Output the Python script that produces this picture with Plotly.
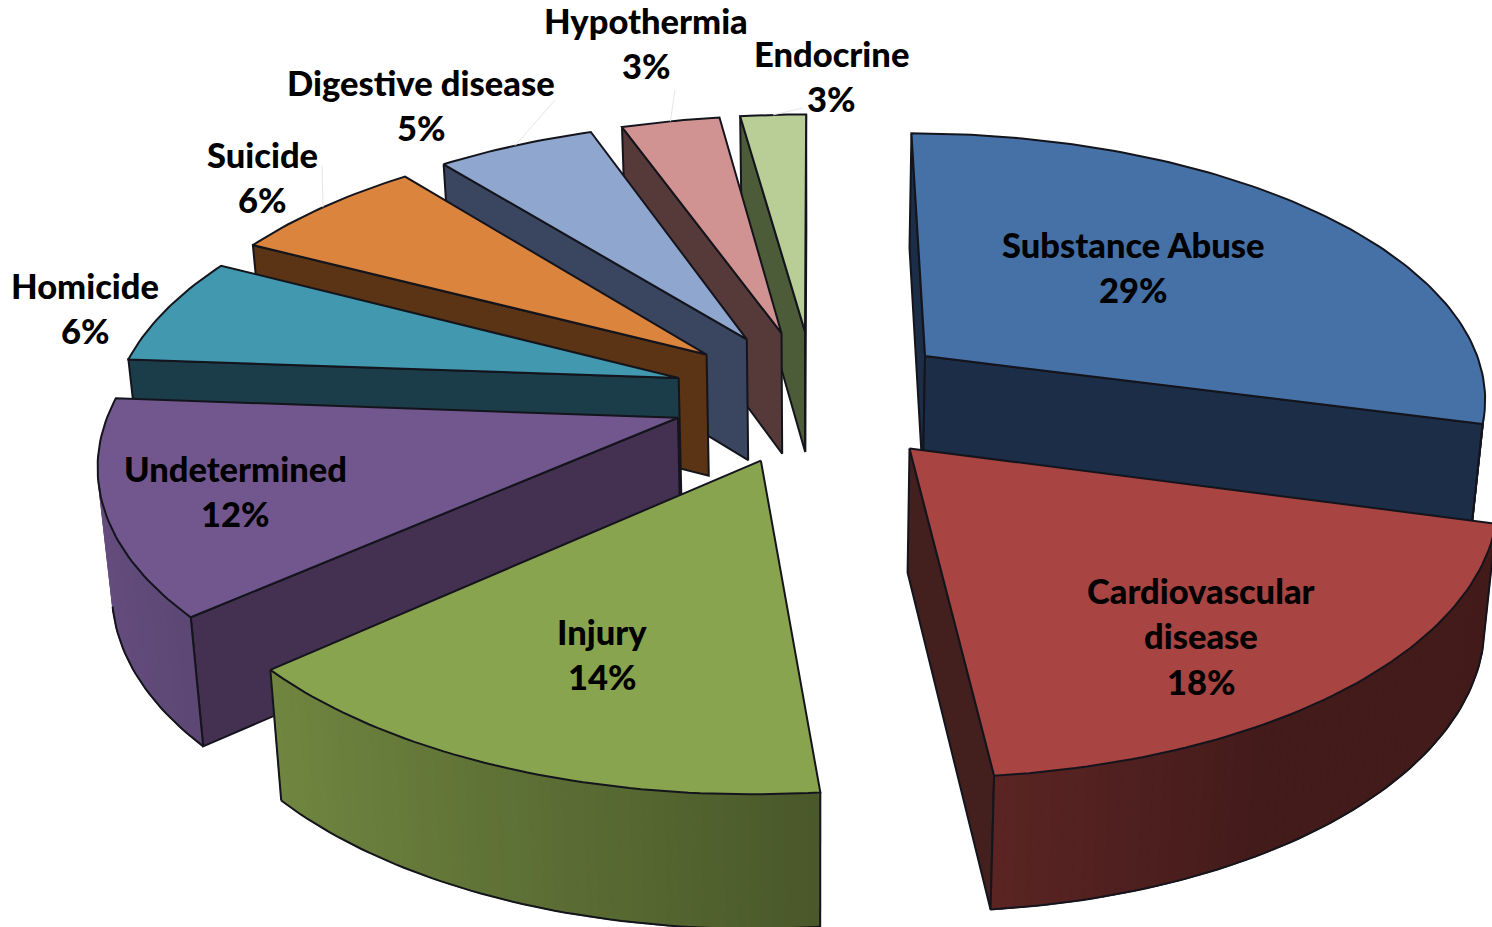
import math
import plotly.graph_objects as go

# Data
categories = ["Substance Abuse", "Cardiovascular disease", "Injury", "Undetermined", "Homicide",
              "Suicide", "Digestive disease", "Hypothermia", "Endocrine"]
percent_labels = [29, 18, 14, 12, 6, 6, 5, 3, 3]
# Share of the circle that each drawn slice really occupies in the picture (%)
slice_shares = [29.15, 19.25, 15.05, 12.7, 6.45, 6.6, 5.3, 3.3, 2.2]

# Style
top_colors = ["#4671A7", "#A84442", "#89A44E", "#71578E", "#4198AF", "#DB843D", "#8FA6CE", "#D19392", "#B9CD96"]
wall_colors = ["#1B2D47", "#43201E", "#4A5D27", "#443051", "#1B3D49", "#5A3415", "#3A4560", "#563A3A", "#4C5B38"]
label_lines = [["Substance Abuse"], ["Cardiovascular", "disease"], ["Injury"], ["Undetermined"], ["Homicide"],
               ["Suicide"], ["Digestive disease"], ["Hypothermia"], ["Endocrine"]]
label_pos = [(1133, 244), (1201, 590), (602, 631), (235, 468), (85, 285), (262, 154), (421, 82), (646, 20), (831, 53)]
leader_ends = {5: (322, 165), 6: (555, 100), 7: (675, 90), 8: (803, 108)}
draw_order = [8, 7, 6, 5, 4, 0, 3, 1, 2]

# Projection of the tilted pie
CX, CY, A, B, P = 814.5, 396.0, 570.0, 268.0, 0.145
RADIUS, EXPLODE = 0.99, 0.25
DROP, DROP_GROW, SHRINK = 122.5, 0.03, 0.98
INK = "#14141c"


def project(x, y, bottom=False):
    w = 1 + P * y
    dx, dy = A * x / w, -B * y / w
    if bottom:
        return CX + SHRINK * dx, CY + (1 + DROP_GROW) * dy + DROP
    return CX + dx, CY + dy


def rgb(hexcol):
    return tuple(int(hexcol[i:i + 2], 16) for i in (1, 3, 5))


def scale(hexcol, f):
    return "rgb(%d,%d,%d)" % tuple(min(255, round(c * f)) for c in rgb(hexcol))


def poly(fig, pts, fill, line=INK, width=2):
    fig.add_trace(go.Scatter(x=[p[0] for p in pts] + [pts[0][0]], y=[p[1] for p in pts] + [pts[0][1]],
                             mode="lines", fill="toself", fillcolor=fill,
                             line=dict(color=line, width=width), hoverinfo="skip", showlegend=False))


def path(fig, pts, color=INK, width=2):
    fig.add_trace(go.Scatter(x=[p[0] for p in pts], y=[p[1] for p in pts], mode="lines",
                             line=dict(color=color, width=width), hoverinfo="skip", showlegend=False))


def side(a, b, c):
    return (b[0] - a[0]) * (c[1] - a[1]) - (b[1] - a[1]) * (c[0] - a[0])


def faces_viewer(a, b, a_low, inside):
    """A wall hanging from edge a-b shows only if it hangs on the outer side of that edge."""
    return side(a, b, a_low) * side(a, b, inside) < 0


total = sum(slice_shares)
spans, cum = [], 0.0
for s in slice_shares:
    spans.append((cum / total * 360, (cum + s) / total * 360))
    cum += s

fig = go.Figure()
for i in draw_order:
    a0, a1 = spans[i]
    mid = math.radians((a0 + a1) / 2)
    ox, oy = EXPLODE * math.sin(mid), EXPLODE * math.cos(mid)
    n = max(4, int(a1 - a0))
    angs = [math.radians(a0 + (a1 - a0) * k / n) for k in range(n + 1)]
    rim = [(ox + RADIUS * math.sin(t), oy + RADIUS * math.cos(t)) for t in angs]
    top = [project(*p) for p in rim]
    bot = [project(*p, bottom=True) for p in rim]
    apex_t, apex_b = project(ox, oy), project(ox, oy, bottom=True)
    inside = project(ox + 0.5 * RADIUS * math.sin(mid), oy + 0.5 * RADIUS * math.cos(mid))

    # radial walls
    for e in (0, -1):
        if faces_viewer(apex_t, top[e], bot[e], inside):
            poly(fig, [apex_t, top[e], bot[e], apex_b], wall_colors[i])
    # curved wall, shaded by the direction it faces
    visible = []
    for k in range(n):
        tm = (angs[k] + angs[k + 1]) / 2
        if not faces_viewer(top[k], top[k + 1], bot[k], inside):
            continue
        visible.append(k)
        col = scale(top_colors[i], max(0.4, 0.57 - 0.33 * math.sin(tm)))
        poly(fig, [top[k], top[k + 1], bot[k + 1], bot[k]], col, line=col, width=1.2)
    if visible:
        path(fig, [bot[k] for k in visible] + [bot[visible[-1] + 1]])
        if visible[-1] == n - 1:
            path(fig, [top[-1], bot[-1]])
        if visible[0] == 0:
            path(fig, [top[0], bot[0]])
    # top face
    poly(fig, [apex_t] + top, top_colors[i])

# leader lines
for i, end in leader_ends.items():
    a0, a1 = spans[i]
    mid = math.radians((a0 + a1) / 2)
    ox, oy = EXPLODE * math.sin(mid), EXPLODE * math.cos(mid)
    path(fig, [project(ox + RADIUS * math.sin(mid), oy + RADIUS * math.cos(mid)), end], color="#e6e6e6", width=1)

# labels
LINE_GAP = 45.5
for i, lines in enumerate(label_lines):
    x, y = label_pos[i]
    for j, txt in enumerate(lines + ["%d%%" % percent_labels[i]]):
        fig.add_annotation(x=x, y=y + j * LINE_GAP, text=txt, showarrow=False,
                           xanchor="center", yanchor="middle",
                           font=dict(family="Lato", size=34.5, color="#000000", weight=900))

fig.update_layout(width=1492, height=927, margin=dict(l=0, r=0, t=0, b=0), autosize=False,
                  paper_bgcolor="white", plot_bgcolor="white", showlegend=False,
                  xaxis=dict(range=[0, 1492], visible=False, fixedrange=True),
                  yaxis=dict(range=[927, 0], visible=False, fixedrange=True))
fig.write_html("out.html", config=dict(displayModeBar=False),
               post_script="document.body.style.margin='0';document.body.style.overflow='hidden';")
